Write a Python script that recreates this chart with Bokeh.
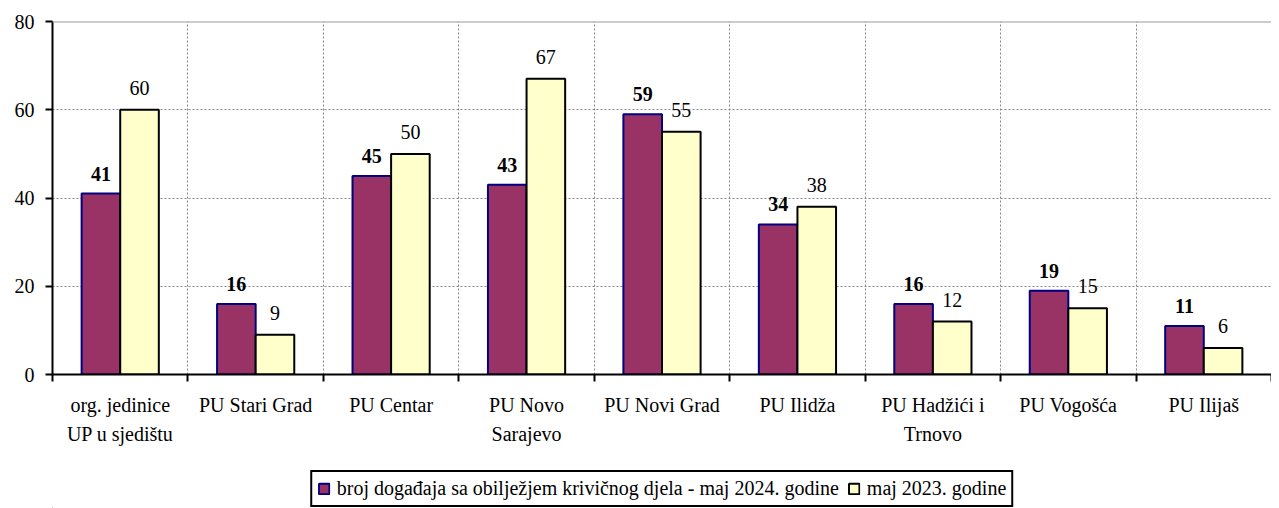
from bokeh.plotting import figure
from bokeh.layouts import column
from bokeh.models import ColumnDataSource, FixedTicker, LabelSet, Legend, LegendItem, Span
from bokeh.embed import file_html
from bokeh.resources import INLINE

categories = ["org. jedinice\nUP u sjedištu", "PU Stari Grad", "PU Centar", "PU Novo\nSarajevo",
              "PU Novi Grad", "PU Ilidža", "PU Hadžići i\nTrnovo", "PU Vogošća", "PU Ilijaš"]
v2024 = [41, 16, 45, 43, 59, 34, 16, 19, 11]
v2023 = [60, 9, 50, 67, 55, 38, 12, 15, 6]
y_ticks = [0, 20, 40, 60, 80]
series_names = ["broj događaja sa obilježjem krivičnog djela - maj 2024. godine", "maj 2023. godine"]

FONT = "Liberation Serif"
FS = "20px"
C24, L24 = "#993366", "#000080"
C23, L23 = "#FFFFCC", "black"
n = len(categories)
bw = 0.285
idx = list(range(n))
x24 = [i + 0.5 - bw / 2 for i in idx]
x23 = [i + 0.5 + bw / 2 for i in idx]

src = ColumnDataSource(dict(x24=x24, x23=x23, v24=v2024, v23=v2023,
                            t24=[str(v) for v in v2024], t23=[str(v) for v in v2023]))

p = figure(frame_width=1219, frame_height=353, x_range=(0, n), y_range=(0, 80),
           output_backend="svg", toolbar_location=None,
           min_border_left=52, min_border_right=0, min_border_top=21, min_border_bottom=76)
p.outline_line_color = None
p.background_fill_color = "white"
p.border_fill_color = "white"

p.vbar(x="x24", top="v24", width=bw, source=src, fill_color=C24, line_color=L24, line_width=2)
p.vbar(x="x23", top="v23", width=bw, source=src, fill_color=C23, line_color=L23, line_width=2)

p.add_layout(LabelSet(x="x24", y="v24", text="t24", source=src, text_align="center", text_baseline="bottom",
                      y_offset=13, text_font=FONT, text_font_size=FS, text_font_style="bold", text_color="black"))
p.add_layout(LabelSet(x="x23", y="v23", text="t23", source=src, text_align="center", text_baseline="bottom",
                      y_offset=15, text_font=FONT, text_font_size=FS, text_color="black"))

# axes
xa = p.xaxis[0]
xa.ticker = FixedTicker(ticks=[i + 0.5 for i in idx], minor_ticks=list(range(n + 1)))
xa.major_label_overrides = {i + 0.5: categories[i] for i in idx}
xa.major_tick_line_color = None
xa.minor_tick_line_color = "black"
xa.minor_tick_out = 7
xa.minor_tick_in = 0
xa.minor_tick_line_width = 2
xa.axis_line_color = "black"
xa.axis_line_width = 2
xa.major_label_text_font = FONT
xa.major_label_text_font_size = FS
xa.major_label_text_color = "black"
xa.major_label_text_line_height = 1.35
xa.major_label_standoff = 12

ya = p.yaxis[0]
ya.ticker = FixedTicker(ticks=y_ticks, minor_ticks=[])
ya.axis_line_color = "black"
ya.axis_line_width = 2
ya.major_tick_out = 7
ya.major_tick_in = 0
ya.major_tick_line_width = 2
ya.major_label_text_font = FONT
ya.major_label_text_font_size = FS
ya.major_label_text_color = "black"
ya.major_label_standoff = 11

p.xgrid.ticker = FixedTicker(ticks=list(range(1, n)))
p.xgrid.grid_line_color = "#888888"
p.xgrid.grid_line_dash = "2 2"
p.ygrid.ticker = FixedTicker(ticks=y_ticks[1:-1])
p.ygrid.grid_line_color = "#888888"
p.ygrid.grid_line_dash = "2 2"
p.add_layout(Span(location=y_ticks[-1], dimension="width", line_color="#999999", line_width=2))

# legend in its own strip below the chart (hidden proxy renderers outside the strip's range)
leg = figure(width=1271, height=58, x_range=(0, 1), y_range=(0, 1), output_backend="svg",
             toolbar_location=None, min_border=0, x_axis_location=None, y_axis_location=None)
leg.grid.visible = False
leg.outline_line_color = None
e24 = leg.vbar(x=[-5], top=[0], width=0.1, fill_color=C24, line_color=L24, line_width=2)
e23 = leg.vbar(x=[-5], top=[0], width=0.1, fill_color=C23, line_color=L23, line_width=2)
legend = Legend(items=[LegendItem(label=series_names[0], renderers=[e24]),
                       LegendItem(label=series_names[1], renderers=[e23])],
                orientation="horizontal", location="bottom_center",
                border_line_color="black", border_line_width=2, border_line_alpha=1,
                background_fill_color="white", background_fill_alpha=1,
                label_text_font=FONT, label_text_font_size=FS, label_text_color="black",
                glyph_width=13, glyph_height=13, label_standoff=7, spacing=8,
                padding=5, margin=1, label_height=20)
leg.add_layout(legend)

layout = column(p, leg, spacing=0)
open("out.html", "w").write(file_html(layout, INLINE))
